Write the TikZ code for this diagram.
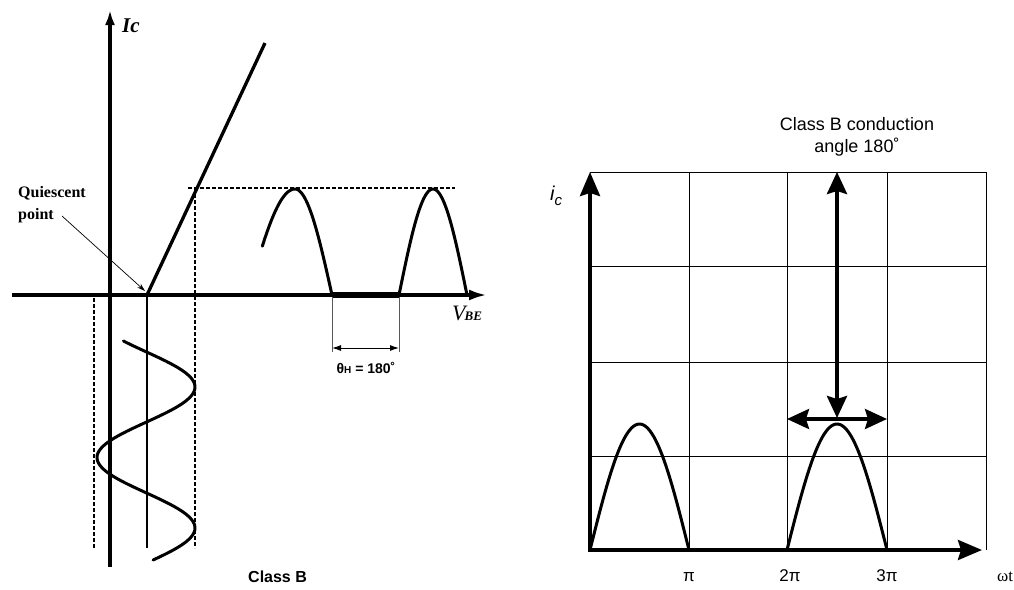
\documentclass[tikz,border=0pt]{standalone}
\usepackage{fontspec}
\setmainfont{Liberation Serif}
\setsansfont{Liberation Sans}
\usetikzlibrary{arrows.meta}
\begin{document}
\begin{tikzpicture}[x=1pt,y=-1pt,
  axisline/.style={line width=3.5pt},
  curveline/.style={line width=3pt, line join=round},
  dashline/.style={line width=1.3pt, dash pattern=on 4pt off 2pt},
  gridline/.style={line width=0.9pt},
  thinline/.style={line width=0.7pt},
  bigtip/.style={-{Stealth[length=24pt,width=20pt,inset=3pt]}},
  bigtips/.style={{Stealth[length=22pt,width=20pt,inset=3pt]}-{Stealth[length=22pt,width=20pt,inset=3pt]}},
  lbl/.style={inner sep=0pt}]
\useasboundingbox (0,0) rectangle (1014,589);

% ---------------- left diagram ----------------
\coordinate (hx0) at (12,295);
\coordinate (hx1) at (487,295);
\coordinate (vy0) at (110,567);
\coordinate (vy1) at (110,10);
\coordinate (q) at (147,295);
\coordinate (qbot) at (147,548);
\coordinate (ltop) at (265,43);
\coordinate (dl0) at (94,298);
\coordinate (dl1) at (94,548);
\coordinate (dr0) at (195,188);
\coordinate (dr1) at (195,548);
\coordinate (dh0) at (188,188);
\coordinate (dh1) at (455,188);
\coordinate (fa) at (332,295);
\coordinate (fb) at (400,295);
\coordinate (ma0) at (332,297);
\coordinate (ma1) at (332,352);
\coordinate (mb0) at (399,297);
\coordinate (mb1) at (399,352);
\coordinate (mm0) at (332,348);
\coordinate (mm1) at (399,348);
\coordinate (qs) at (62,216);
\coordinate (qe) at (145,291);

\draw[axisline,-{Latex[length=18pt,width=11pt]}] (hx0) -- (hx1);
\draw[axisline,-{Latex[length=15pt,width=10pt]}] (vy0) -- (vy1);
\draw[line width=3.3pt] (q) -- (ltop);
\draw[line width=2.3pt] (q) -- (qbot);
\draw[dashline] (dl0) -- (dl1);
\draw[dashline] (dr0) -- (dr1);
\draw[dashline] (dh0) -- (dh1);
\draw[line width=6pt] (fa) -- (fb);
\draw[thinline, gray!70!black] (ma0) -- (ma1);
\draw[thinline, gray!70!black] (mb0) -- (mb1);
\draw[line width=1pt, {Latex[length=9pt,width=6pt]}-{Latex[length=9pt,width=6pt]}] (mm0) -- (mm1);
\draw[thinline, -{Stealth[length=8pt,width=5pt]}] (qs) -- (qe);

% output pulses
\draw[curveline, line cap=round] plot[domain=-62.6:0, samples=40, variable=\p] ({295+47*\p/90},{189+106*(1-cos(\p))})
  -- plot[domain=0:90, samples=40, variable=\p] ({295+37*\p/90},{189+106*(1-cos(\p))});
\draw[curveline] plot[domain=-90:90, samples=60, variable=\p] ({433+34*\p/90},{189+106*(1-cos(\p))});

% input sine
\draw[curveline, line cap=round] plot[domain=341:560, samples=120, variable=\t] ({146+49*cos((\t-387)*2.5532)},{\t});

\node[lbl, anchor=north west, align=left, font=\fontsize{16}{22}\selectfont\bfseries] (quies) at (18,186) {Quiescent\\point};
\node[lbl, anchor=base west, font=\fontsize{21}{24}\selectfont\bfseries\itshape] (ic) at (122,32) {Ic};
\node[lbl, anchor=base west, font=\fontsize{22}{24}\selectfont\itshape] (vbe) at (452,320) {V\kern-1pt{\fontsize{13}{14}\selectfont\bfseries BE}};
\node[lbl, anchor=base, font=\sffamily\bfseries\fontsize{14}{16}\selectfont] (theta) at (366,373) {θ{\fontsize{10}{12}\selectfont H} = 180˚};
\node[lbl, anchor=base west, font=\sffamily\bfseries\fontsize{16}{18}\selectfont] (classb) at (248,582) {Class B};

% ---------------- right diagram ----------------
\foreach \xx/\nm in {689/a,787/b,887/c,986/d} {
  \coordinate (gt\nm) at (\xx,172);
  \coordinate (gb\nm) at (\xx,550);
  \draw[gridline] (gt\nm) -- (gb\nm);
}
\foreach \yy/\nm in {172/a,266/b,362/c,456/d} {
  \coordinate (gl\nm) at (590,\yy);
  \coordinate (gr\nm) at (986,\yy);
  \draw[gridline] (gl\nm) -- (gr\nm);
}
\coordinate (ax0) at (588,550);
\coordinate (ax1) at (982,550);
\coordinate (ay0) at (590,552);
\coordinate (ay1) at (590,172);
\draw[axisline, bigtip] (ax0) -- (ax1);
\draw[axisline, bigtip] (ay0) -- (ay1);

\coordinate (va0) at (837,172);
\coordinate (va1) at (837,418);
\draw[line width=3.8pt, bigtips] (va0) -- (va1);
\coordinate (ha0) at (787,419);
\coordinate (ha1) at (887,419);
\draw[line width=3.3pt, bigtips] (ha0) -- (ha1);

\draw[curveline] plot[domain=0:180, samples=60, variable=\s] ({590+0.55*\s},{550-126*sin(\s)});
\draw[curveline] plot[domain=0:180, samples=60, variable=\s] ({787+0.5556*\s},{550-126*sin(\s)});

\node[lbl, align=center, font=\sffamily\fontsize{18}{22}\selectfont] (title) at (857,137) {Class B conduction\\angle 180˚};
\node[lbl, anchor=base west, font=\sffamily\itshape\fontsize{20}{22}\selectfont] (iclab) at (550,200) {i\raisebox{-5pt}{\fontsize{15}{16}\selectfont c}};
\node[lbl, anchor=base, font=\sffamily\fontsize{17}{18}\selectfont] (pi1) at (689,581) {π};
\node[lbl, anchor=base, font=\sffamily\fontsize{17}{18}\selectfont] (pi2) at (790,581) {2π};
\node[lbl, anchor=base, font=\sffamily\fontsize{17}{18}\selectfont] (pi3) at (887,581) {3π};
\node[lbl, anchor=base west, font=\fontsize{17}{18}\selectfont] (wt) at (997,581) {ωt};
\end{tikzpicture}
\end{document}
